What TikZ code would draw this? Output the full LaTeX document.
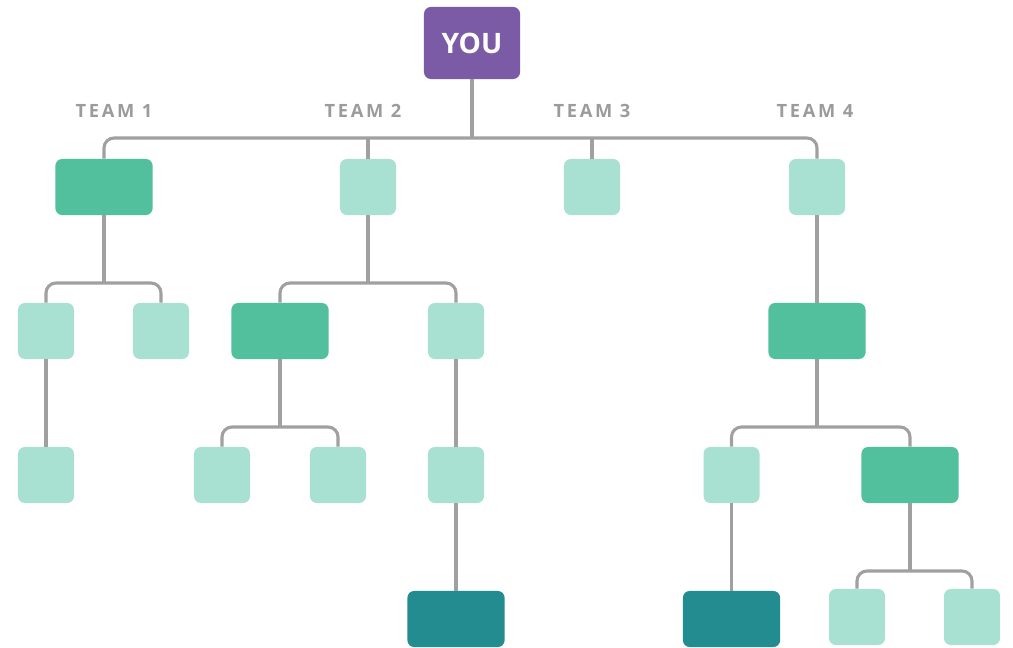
\documentclass[tikz,border=0pt]{standalone}
\usepackage{fontspec}
\setmainfont{Open Sans}
\newfontfamily\teamfont[LetterSpace=15]{Open Sans}
\usetikzlibrary{positioning}
\definecolor{youpurple}{HTML}{7B5BA6}
\definecolor{midgreen}{HTML}{52BF9D}
\definecolor{lightgreen}{HTML}{A8E0D1}
\definecolor{deepteal}{HTML}{228C90}
\definecolor{linegray}{HTML}{A0A0A0}
\definecolor{labelgray}{HTML}{9B9B9B}

\tikzset{
  box/.style={rounded corners=0.17cm,inner sep=0pt,minimum height=1.4cm},
  small/.style={box,fill=lightgreen,minimum width=1.4cm},
  lead/.style={box,fill=midgreen,minimum width=2.43cm},
  deep/.style={box,fill=deepteal,minimum width=2.43cm},
  team/.style={text=labelgray,font=\teamfont\fontsize{13}{15}\selectfont\bfseries},
  link/.style={draw=linegray,line width=2.2pt,rounded corners=0.25cm}
}

\begin{document}
\begin{tikzpicture}[x=0.025cm,y=-0.025cm]
    \useasboundingbox (0,0) rectangle (1013,648);

    % top of the chart
    \node[box,fill=youpurple,minimum width=2.4cm,minimum height=1.8cm,
          text=white,font=\fontsize{20}{24}\selectfont\bfseries] (you) at (472,43) {YOU};
    \foreach \n/\x in {1/114,2/363,3/592,4/815}{% labels over each team
      \node[team] (lab\n) at (\x,111) {TEAM \n};
    }

    % first row, one box per team
    \node[lead]  (t1) at (104,187) {};
    \node[small] (t2) at (368,187) {};
    \node[small] (t3) at (592,187) {};
    \node[small] (t4) at (817,187) {};

    % second row
    \node[small] (t1a) at (46,331) {};
    \node[small] (t1b) at (161,331) {};
    \node[lead]  (t2a) at (280,331) {};
    \node[small] (t2b) at (456,331) {};
    \node[lead]  (t4a) at (817,331) {};

    % third row
    \node[small] (t1aa) at (46,475) {};
    \node[small] (t2aa) at (222,475) {};
    \node[small] (t2ab) at (338,475) {};
    \node[small] (t2ba) at (456,475) {};
    \node[small] (t4aa) at (731.5,475) {};
    \node[lead]  (t4ab) at (910,475) {};

    % last row
    \node[deep]  (t2baa) at (456,619) {};
    \node[deep]  (t4aaa) at (731.5,619) {};
    \node[small] (t4aba) at (857,617) {};
    \node[small] (t4abb) at (972,617) {};

    % branch points
    \coordinate (b0) at (472,138);
    \coordinate (b1) at (104,283);
    \coordinate (b2) at (368,283);
    \coordinate (b2a) at (280,427);
    \coordinate (b4a) at (817,427);
    \coordinate (b4ab) at (910,571);

    % forks
    \draw[link] (you.south) -- (b0);
    \draw[link] (t1.north) |- (b0) -| (t4.north);
    \draw[link] (t2.north) -- (t2.north |- b0);
    \draw[link] (t3.north) -- (t3.north |- b0);
    \foreach \p/\b/\l/\r in {t1/b1/t1a/t1b, t2/b2/t2a/t2b, t2a/b2a/t2aa/t2ab,
                             t4a/b4a/t4aa/t4ab, t4ab/b4ab/t4aba/t4abb}{% parent to two children
      \draw[link] (\p.south) -- (\b);
      \draw[link] (\l.north) |- (\b) -| (\r.north);
    }

    % single lines
    \foreach \p/\c in {t1a/t1aa, t2b/t2ba, t2ba/t2baa, t4/t4a, t4aa/t4aaa}{
      \draw[link] (\p.south) -- (\c.north);
    }

\end{tikzpicture}
\end{document}
